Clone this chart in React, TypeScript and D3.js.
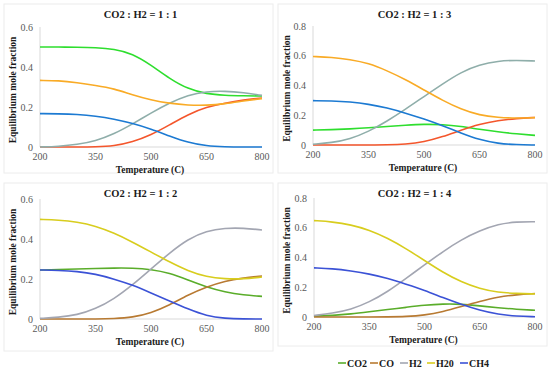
import React, { useRef, useEffect } from 'react';
import * as d3 from 'd3';

const temps = [200, 250, 300, 350, 400, 450, 500, 550, 600, 650, 700, 750, 800];
const xTicks = [200, 350, 500, 650, 800];
const seriesNames = ['CO2', 'CO', 'H2', 'H20', 'CH4'];

// CO2 : H2 = 1 : 1
const co2_11 = [0.5, 0.5, 0.499, 0.497, 0.49, 0.467, 0.41, 0.342, 0.29, 0.265, 0.258, 0.256, 0.255];
const co_11 = [0, 0, 0, 0.001, 0.005, 0.025, 0.06, 0.11, 0.163, 0.2, 0.22, 0.235, 0.245];
const h2_11 = [0, 0.003, 0.012, 0.03, 0.065, 0.115, 0.17, 0.22, 0.26, 0.278, 0.28, 0.272, 0.258];
const h2o_11 = [0.333, 0.332, 0.322, 0.308, 0.292, 0.26, 0.235, 0.218, 0.209, 0.208, 0.216, 0.23, 0.242];
const ch4_11 = [0.167, 0.166, 0.163, 0.155, 0.14, 0.118, 0.09, 0.055, 0.022, 0.005, 0.001, 0, 0];

// CO2 : H2 = 1 : 3
const co2_13 = [0.1, 0.103, 0.108, 0.115, 0.125, 0.133, 0.14, 0.138, 0.125, 0.105, 0.088, 0.075, 0.065];
const co_13 = [0, 0, 0, 0, 0.001, 0.005, 0.02, 0.055, 0.1, 0.14, 0.165, 0.178, 0.185];
const h2_13 = [0.005, 0.015, 0.04, 0.09, 0.16, 0.24, 0.326, 0.41, 0.49, 0.54, 0.565, 0.57, 0.565];
const h2o_13 = [0.595, 0.59, 0.575, 0.55, 0.5, 0.44, 0.37, 0.3, 0.24, 0.2, 0.185, 0.18, 0.184];
const ch4_13 = [0.298, 0.297, 0.29, 0.275, 0.25, 0.215, 0.175, 0.13, 0.08, 0.035, 0.01, 0.002, 0];

// CO2 : H2 = 1 : 2
const co2_12 = [0.245, 0.247, 0.25, 0.252, 0.255, 0.255, 0.248, 0.23, 0.195, 0.16, 0.135, 0.12, 0.113];
const co_12 = [0, 0, 0, 0, 0.002, 0.008, 0.03, 0.07, 0.12, 0.16, 0.19, 0.205, 0.215];
const h2_12 = [0.003, 0.008, 0.02, 0.05, 0.1, 0.17, 0.25, 0.33, 0.4, 0.44, 0.455, 0.455, 0.445];
const h2o_12 = [0.498, 0.495, 0.485, 0.465, 0.43, 0.385, 0.335, 0.285, 0.24, 0.21, 0.2, 0.2, 0.21];
const ch4_12 = [0.245, 0.243, 0.238, 0.225, 0.2, 0.17, 0.13, 0.09, 0.05, 0.015, 0.003, 0, 0];

// CO2 : H2 = 1 : 4
const co2_14 = [0.005, 0.01, 0.02, 0.035, 0.05, 0.065, 0.08, 0.088, 0.087, 0.075, 0.062, 0.052, 0.045];
const co_14 = [0, 0, 0, 0, 0.001, 0.003, 0.012, 0.035, 0.07, 0.105, 0.135, 0.15, 0.158];
const h2_14 = [0.01, 0.025, 0.05, 0.1, 0.17, 0.26, 0.35, 0.44, 0.52, 0.58, 0.625, 0.64, 0.64];
const h2o_14 = [0.648, 0.64, 0.62, 0.585, 0.53, 0.46, 0.38, 0.3, 0.235, 0.19, 0.165, 0.158, 0.155];
const ch4_14 = [0.33, 0.325, 0.31, 0.29, 0.26, 0.22, 0.18, 0.13, 0.085, 0.045, 0.018, 0.005, 0.002];

const topColors = ['#2ede2e', '#f4562c', '#8faeaa', '#f9ab26', '#1c7ad2'];
const bottomColors = ['#5aad2a', '#b87a32', '#a3a6b2', '#d8cd1e', '#3b52d6'];

const panels = [
  { title: 'CO2 : H2 = 1 : 1', series: [co2_11, co_11, h2_11, h2o_11, ch4_11], yTicks: [0, 0.2, 0.4, 0.6], yMax: 0.6,
    box: [4, 4, 273, 173], plot: [40, 262, 27, 147], colors: topColors },
  { title: 'CO2 : H2 = 1 : 3', series: [co2_13, co_13, h2_13, h2o_13, ch4_13], yTicks: [0, 0.2, 0.4, 0.6, 0.8], yMax: 0.8,
    box: [278, 4, 547, 173], plot: [313, 535, 26, 145], colors: topColors },
  { title: 'CO2 : H2 = 1 : 2', series: [co2_12, co_12, h2_12, h2o_12, ch4_12], yTicks: [0, 0.2, 0.4, 0.6], yMax: 0.6,
    box: [4, 183, 273, 351], plot: [40, 262, 199, 319], colors: bottomColors },
  { title: 'CO2 : H2 = 1 : 4', series: [co2_14, co_14, h2_14, h2o_14, ch4_14], yTicks: [0, 0.2, 0.4, 0.6, 0.8], yMax: 0.8,
    box: [278, 183, 547, 346], plot: [314, 535, 198, 317], colors: bottomColors },
];

const App = () => {
  const ref = useRef(null);

  useEffect(() => {
    const svg = d3.select(ref.current);
    svg.selectAll('*').remove();
    const font = '"Liberation Serif", "Times New Roman", serif';

    panels.forEach((p) => {
      const [bx0, by0, bx1, by1] = p.box;
      const [px0, px1, pyTop, pyBot] = p.plot;
      const g = svg.append('g');

      g.append('rect')
        .attr('x', bx0).attr('y', by0)
        .attr('width', bx1 - bx0).attr('height', by1 - by0)
        .attr('fill', 'none').attr('stroke', '#ececec');

      const x = d3.scaleLinear().domain([200, 800]).range([px0, px1]);
      const y = d3.scaleLinear().domain([0, p.yMax]).range([pyBot, pyTop]);

      // axes lines
      g.append('line').attr('x1', px0).attr('x2', px0).attr('y1', pyTop).attr('y2', pyBot)
        .attr('stroke', '#d9d9d9');
      g.append('line').attr('x1', px0).attr('x2', px1).attr('y1', pyBot).attr('y2', pyBot)
        .attr('stroke', '#d9d9d9');

      g.selectAll('.xt').data(xTicks).enter().append('text')
        .attr('x', (d) => x(d)).attr('y', pyBot + 13)
        .attr('text-anchor', 'middle').attr('font-family', font).attr('font-size', 10)
        .attr('fill', '#595959').text((d) => d);

      g.selectAll('.yt').data(p.yTicks).enter().append('text')
        .attr('x', px0 - 7).attr('y', (d) => y(d) + 3.5)
        .attr('text-anchor', 'end').attr('font-family', font).attr('font-size', 10)
        .attr('fill', '#595959').text((d) => (d === 0 ? '0' : d3.format('.1f')(d)));

      g.append('text')
        .attr('x', (bx0 + bx1) / 2 + 2).attr('y', by0 + 14)
        .attr('text-anchor', 'middle').attr('font-family', font).attr('font-size', 10.5)
        .attr('font-weight', 'bold').attr('fill', '#1a1a1a').text(p.title);

      g.append('text')
        .attr('x', (px0 + px1) / 2 - 1).attr('y', pyBot + 26)
        .attr('text-anchor', 'middle').attr('font-family', font).attr('font-size', 9.5)
        .attr('font-weight', 'bold').attr('fill', '#1a1a1a').text('Temperature (C)');

      g.append('text')
        .attr('transform', `translate(${bx0 + 12},${(pyTop + pyBot) / 2 + 3}) rotate(-90)`)
        .attr('text-anchor', 'middle').attr('font-family', font).attr('font-size', 9.5)
        .attr('font-weight', 'bold').attr('fill', '#1a1a1a').text('Equilibrium mole fraction');

      const line = d3.line<number>()
        .x((d, i) => x(temps[i]))
        .y((d) => y(d))
        .curve(d3.curveBasis);

      p.series.forEach((s, i) => {
        g.append('path')
          .attr('d', line(s))
          .attr('fill', 'none')
          .attr('stroke', p.colors[i])
          .attr('stroke-width', 1.6);
      });
    });

    // legend
    const legendX = [338, 370, 400, 427, 460];
    const lg = svg.append('g');
    seriesNames.forEach((n, i) => {
      lg.append('line')
        .attr('x1', legendX[i]).attr('x2', legendX[i] + 8)
        .attr('y1', 363).attr('y2', 363)
        .attr('stroke', bottomColors[i]).attr('stroke-width', 1.6);
      lg.append('text')
        .attr('x', legendX[i] + 9).attr('y', 366.5)
        .attr('font-family', font).attr('font-size', 10).attr('font-weight', 'bold')
        .attr('fill', '#1a1a1a').text(n);
    });
  }, []);

  return (
    <svg ref={ref} width="550" height="375" style={{ position: 'absolute', left: 0, top: 0, background: '#fff' }}></svg>
  );
};

export default App;
